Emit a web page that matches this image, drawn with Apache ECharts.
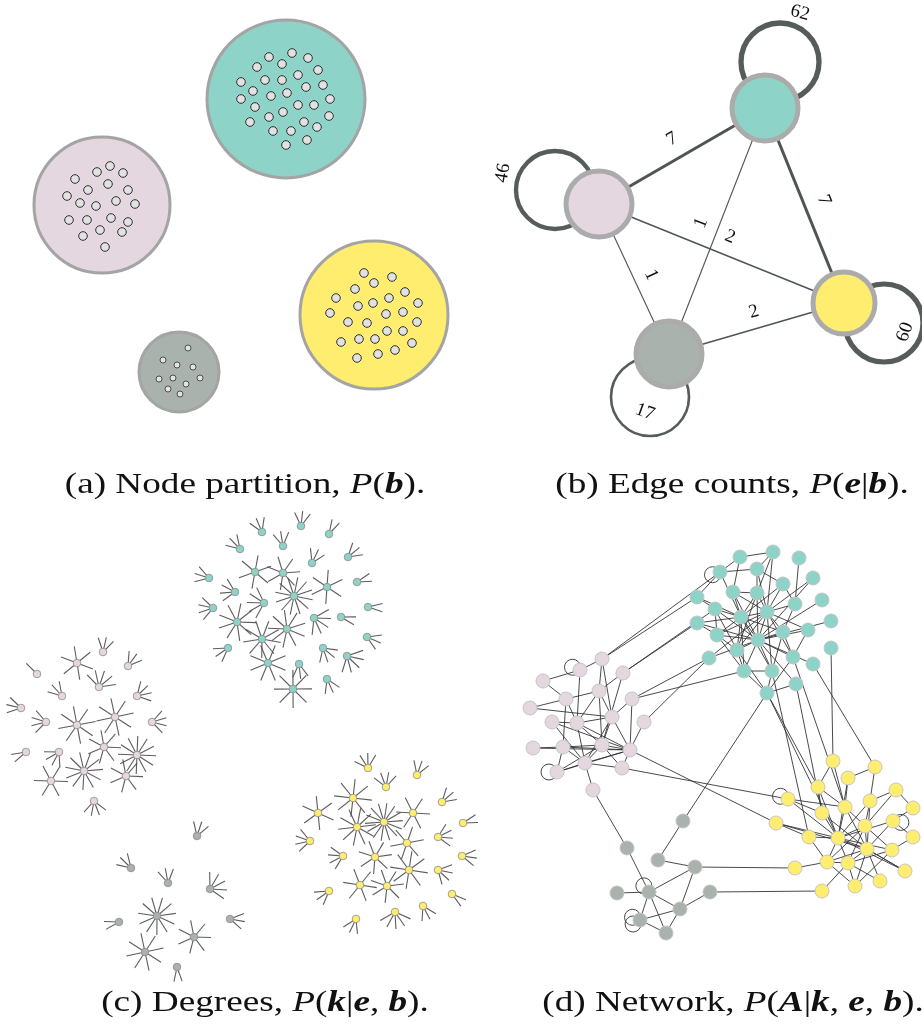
<!DOCTYPE html>
<html><head><meta charset="utf-8">
<script src="https://cdn.jsdelivr.net/npm/echarts@6/dist/echarts.min.js"></script>
<style>html,body{margin:0;padding:0;background:#fff}#c{width:922px;height:1026px}</style>
</head><body><div id="c"></div>
<script>
// ---------- blocks ----------
const blockNames = ['teal', 'pink', 'yellow', 'gray'];
const blockColors = ['#8dd3c7', '#e4d7df', '#ffed6f', '#a9b2ad'];

// ---------- (a) Node partition ----------
const partitionCenters = [[286, 99], [102, 205], [374, 315], [179, 372]];
const partitionRadii = [79, 68, 74, 40];
const partitionTeal = [[269,57],[292,53],[308,58],[257,67],[282,64],[318,70],[265,80],[282,80],[298,75],[323,85],[241,82],[253,91],[271,96],[287,93],[306,87],[330,99],[241,99],[255,107],[283,112],[298,105],[314,105],[329,116],[250,122],[269,117],[304,122],[317,127],[273,131],[291,131],[307,140],[286,145]];
const partitionPink = [[75,179],[97,172],[110,166],[123,173],[88,190],[108,184],[128,190],[67,196],[80,203],[96,206],[116,201],[135,204],[69,220],[87,220],[111,218],[128,222],[83,236],[100,230],[122,232],[105,247]];
const partitionYellow = [[364,273],[392,277],[374,283],[355,289],[405,292],[336,298],[358,306],[373,303],[389,298],[418,303],[330,313],[386,314],[403,312],[348,322],[367,323],[417,322],[387,331],[403,331],[341,342],[359,339],[375,339],[412,343],[357,358],[378,354],[395,350]];
const partitionGray = [[188,348],[163,360],[177,365],[193,367],[159,379],[173,378],[200,378],[186,384],[168,389],[180,394]];

// ---------- (b) Edge counts ----------
const blockGraphPos = [[765, 108], [599, 204], [844, 303], [669, 354]];
const blockGraphRadius = [33, 33, 31, 33];
const blockLoopPos = [[780, 62], [555, 190], [884, 323], [650, 397]];
const edgeCountPairs = [[1, 0], [0, 2], [3, 0], [1, 2], [1, 3], [3, 2]];
const edgeCountValues = [7, 7, 1, 2, 1, 2];
const edgeLabelPos = [[672, 139], [824, 200], [701, 223], [730, 237], [651, 275], [754, 312]];
const selfEdgeCounts = [62, 46, 60, 17];
const selfLabelPos = [[800, 13], [503, 173], [905, 332], [645, 412]];
const selfLabelRot = [-15, 80, 70, -20];

// ---------- (c) Degrees: [x, y, degree] ----------
const degreeTeal = [[262,532,3],[301,526,3],[329,534,2],[240,549,3],[283,546,3],[348,557,3],[255,572,6],[283,573,7],[312,563,3],[209,578,3],[235,592,4],[294,596,12],[327,587,6],[357,582,2],[213,608,4],[264,603,5],[368,607,2],[237,622,9],[287,629,9],[314,618,5],[341,617,2],[262,639,9],[228,648,3],[323,648,4],[347,656,5],[367,637,3],[268,663,8],[299,664,3],[327,679,3],[293,689,8]];
const degreePink = [[77,663,6],[103,652,3],[128,666,3],[37,674,1],[99,687,5],[62,696,3],[137,696,4],[21,708,3],[46,722,4],[77,725,8],[115,717,8],[152,722,4],[26,752,2],[59,752,4],[104,747,7],[137,755,12],[84,771,11],[51,781,6],[126,776,7],[94,801,4]];
const degreeYellow = [[368,768,4],[417,775,3],[386,787,4],[353,798,8],[442,802,3],[318,813,6],[413,813,6],[384,822,14],[463,823,2],[357,827,10],[438,837,4],[310,841,4],[407,843,6],[462,856,3],[343,856,4],[375,857,7],[409,870,8],[438,870,4],[329,891,3],[360,885,6],[387,886,7],[452,894,2],[356,919,3],[395,912,5],[423,906,3]];
const degreeGray = [[197,836,3],[131,868,3],[168,883,3],[210,889,5],[157,916,11],[119,922,2],[230,919,3],[194,937,7],[145,952,8],[177,967,2]];

// ---------- (d) Network ----------
const netTeal = [[740,557],[773,552],[799,558],[720,572],[757,569],[813,578],[783,584],[697,597],[733,592],[757,593],[715,609],[741,617],[767,612],[795,604],[822,600],[697,623],[717,635],[758,640],[783,632],[808,630],[831,621],[737,650],[793,657],[709,658],[744,671],[772,671],[813,664],[831,648],[796,684],[767,693]];
const netPink = [[602,659],[580,670],[623,673],[543,681],[599,691],[566,699],[632,699],[530,708],[552,722],[577,723],[612,717],[644,722],[533,748],[563,747],[602,745],[630,750],[585,763],[557,772],[622,768],[593,790]];
const netYellow = [[833,761],[875,767],[848,778],[818,787],[896,790],[788,799],[870,801],[913,808],[845,807],[822,813],[776,823],[865,826],[893,821],[809,837],[838,838],[913,837],[867,849],[892,850],[795,868],[827,862],[848,863],[905,871],[855,886],[880,881],[822,891]];
const netGray = [[683,821],[627,848],[658,860],[695,867],[617,893],[649,892],[710,892],[680,909],[640,920],[666,933]];
const netEdgesTeal = [[0,1],[0,3],[0,8],[1,4],[1,9],[1,12],[3,4],[3,7],[3,11],[4,9],[4,6],[2,13],[5,12],[5,17],[6,13],[6,11],[7,11],[7,10],[8,11],[8,12],[9,12],[9,17],[10,11],[10,16],[10,17],[11,12],[11,17],[11,15],[11,21],[11,18],[12,17],[12,13],[12,22],[14,17],[15,16],[16,17],[16,12],[17,18],[17,21],[17,24],[17,25],[18,22],[19,22],[19,12],[20,17],[21,24],[21,29],[22,29],[23,12],[24,29],[25,29],[26,17],[28,17],[28,29],[13,18],[9,21],[8,17],[4,12],[11,16],[12,18],[17,22],[8,9],[9,11],[16,21],[11,24],[12,25],[16,24],[12,21],[17,19],[18,25],[6,12],[10,21],[15,17],[23,17],[24,25],[11,25]];
const netEdgesPink = [[0,1],[0,4],[0,10],[1,3],[1,9],[2,4],[2,14],[3,5],[4,5],[4,9],[4,14],[5,7],[5,9],[6,10],[6,15],[7,10],[8,9],[8,15],[9,14],[9,15],[9,16],[10,14],[10,15],[11,15],[12,13],[13,14],[13,15],[14,15],[14,16],[14,18],[16,17],[16,18],[16,15],[17,15],[18,15],[19,16],[17,13],[10,16],[4,10],[9,10],[13,16],[15,12],[14,17],[5,13],[8,16]];
const netEdgesYellow = [[0,3],[0,8],[1,6],[1,2],[2,8],[3,9],[3,14],[4,6],[4,7],[4,11],[5,9],[5,14],[6,11],[6,14],[7,12],[8,11],[8,14],[9,14],[10,13],[10,14],[11,14],[11,16],[11,17],[12,14],[12,15],[13,19],[14,16],[14,19],[14,20],[15,17],[16,20],[16,21],[17,22],[18,19],[19,22],[20,22],[20,23],[21,16],[23,16],[24,20],[11,20],[2,14],[6,16],[8,16],[9,16],[13,14],[14,17],[16,19],[11,19],[12,16],[16,22],[3,8],[5,8],[14,21],[17,20],[19,20],[10,16]];
const netEdgesGray = [[0,2],[2,3],[1,5],[3,5],[3,7],[5,7],[6,7],[4,5],[5,8],[7,8],[8,9],[5,9],[7,9]];
// between blocks: [blockA, nodeA, blockB, nodeB]
const netEdgesBetween = [[1,0,0,7],[1,0,0,3],[1,2,0,15],[1,2,0,10],[1,6,0,23],[1,6,0,24],[1,11,0,23],
  [0,29,2,3],[0,29,2,14],[0,28,2,9],[0,22,2,8],[0,26,2,1],[0,27,2,0],[0,25,2,13],
  [0,29,3,0],[1,15,2,10],[1,18,2,5],[1,19,3,1],[3,3,2,18],[3,6,2,24]];
// self loops: [block, node, direction in degrees]
const netLoops = [[1,1,200],[1,17,180],[2,5,200],[2,12,10],[3,8,200],[3,8,150],[3,5,230],[0,3,160]];

// ---------- captions ----------
const captionTexts = [
  '(a) Node partition, {it|P}({bi|b}).',
  '(b) Edge counts, {it|P}({bi|e}|{bi|b}).',
  '(c) Degrees, {it|P}({bi|k}|{bi|e}, {bi|b}).',
  '(d) Network, {it|P}({bi|A}|{bi|k}, {bi|e}, {bi|b}).'
];
const captionPos = [[245, 485], [732, 485], [265, 1003], [733, 1003]];

// ================= build =================
const chart = echarts.init(document.getElementById('c'));
const FONT = '"Liberation Serif", "DejaVu Serif", serif';

function custom(data, renderItem, z) {
  return { type: 'custom', coordinateSystem: 'cartesian2d', data, renderItem, z, silent: true, animation: false, clip: false };
}

const blockOf = (arr, b) => arr.map(p => [p[0], p[1], b]);

// (a)
const aCircleData = partitionCenters.map((p, i) => [p[0], p[1], partitionRadii[i], i]);
const aNodeData = [].concat(blockOf(partitionTeal, 0), blockOf(partitionPink, 1), blockOf(partitionYellow, 2), blockOf(partitionGray, 3));

// (b)
const bEdgeData = edgeCountPairs.map((p, i) => [blockGraphPos[p[0]][0], blockGraphPos[p[0]][1], blockGraphPos[p[1]][0], blockGraphPos[p[1]][1], edgeCountValues[i]]);
const bLoopData = blockLoopPos.map((p, i) => [p[0], p[1], selfEdgeCounts[i]]);
const bNodeData = blockGraphPos.map((p, i) => [p[0], p[1], i]);
const bLabelData = [];
edgeLabelPos.forEach((p, i) => {
  const a = blockGraphPos[edgeCountPairs[i][0]], c = blockGraphPos[edgeCountPairs[i][1]];
  let ang = Math.atan2(-(c[1] - a[1]), c[0] - a[0]) * 180 / Math.PI;
  if (ang > 90) ang -= 180; if (ang < -90) ang += 180;
  bLabelData.push([p[0], p[1], ang, edgeCountValues[i]]);
});
selfLabelPos.forEach((p, i) => bLabelData.push([p[0], p[1], selfLabelRot[i], selfEdgeCounts[i]]));

// (c)
const degreeBlocks = [degreeTeal, degreePink, degreeYellow, degreeGray];
const cData = [];
degreeBlocks.forEach((arr, b) => {
  const cx = arr.reduce((s, p) => s + p[0], 0) / arr.length;
  const cy = arr.reduce((s, p) => s + p[1], 0) / arr.length;
  arr.forEach(p => cData.push([p[0], p[1], p[2], b, cx, cy]));
});

// (d)
const netBlocks = [netTeal, netPink, netYellow, netGray];
const intraEdges = [netEdgesTeal, netEdgesPink, netEdgesYellow, netEdgesGray];
const dEdgeData = [];
intraEdges.forEach((list, b) => list.forEach(e => {
  const p = netBlocks[b][e[0]], q = netBlocks[b][e[1]];
  dEdgeData.push([p[0], p[1], q[0], q[1]]);
}));
netEdgesBetween.forEach(e => {
  const p = netBlocks[e[0]][e[1]], q = netBlocks[e[2]][e[3]];
  dEdgeData.push([p[0], p[1], q[0], q[1]]);
});
const dLoopData = netLoops.map(l => [netBlocks[l[0]][l[1]][0], netBlocks[l[0]][l[1]][1], l[2]]);
const dNodeData = [];
netBlocks.forEach((arr, b) => arr.forEach(p => dNodeData.push([p[0], p[1], b])));

function lineRender(color, widthFn) {
  return (params, api) => {
    const p1 = api.coord([api.value(0), api.value(1)]);
    const p2 = api.coord([api.value(2), api.value(3)]);
    return { type: 'line', shape: { x1: p1[0], y1: p1[1], x2: p2[0], y2: p2[1] }, style: { stroke: color, lineWidth: widthFn(api) } };
  };
}

const series = [
  // (a) block circles
  custom(aCircleData, (params, api) => {
    const c = api.coord([api.value(0), api.value(1)]);
    const r = api.size([api.value(2), 0])[0];
    return { type: 'circle', shape: { cx: c[0], cy: c[1], r: r }, style: { fill: blockColors[api.value(3)], stroke: '#a4a4a4', lineWidth: 3 } };
  }, 1),
  custom(aNodeData, (params, api) => {
    const c = api.coord([api.value(0), api.value(1)]);
    const small = api.value(2) === 3;
    return { type: 'circle', shape: { cx: c[0], cy: c[1], r: small ? 3 : 4.3 }, style: { fill: '#e2e2e2', stroke: '#2e2e2e', lineWidth: small ? 0.8 : 1 } };
  }, 2),
  // (b)
  custom(bEdgeData, lineRender('#4f5553', api => 0.8 + 0.32 * api.value(4)), 1),
  custom(bLoopData, (params, api) => {
    const c = api.coord([api.value(0), api.value(1)]);
    return { type: 'circle', shape: { cx: c[0], cy: c[1], r: 39 }, style: { fill: 'none', stroke: '#555c5a', lineWidth: 1.6 + 0.06 * api.value(2) } };
  }, 1),
  custom(bNodeData, (params, api) => {
    const c = api.coord([api.value(0), api.value(1)]);
    const b = api.value(2);
    return { type: 'circle', shape: { cx: c[0], cy: c[1], r: blockGraphRadius[b] }, style: { fill: blockColors[b], stroke: '#ababab', lineWidth: 5 } };
  }, 3),
  custom(bLabelData, (params, api) => {
    const c = api.coord([api.value(0), api.value(1)]);
    return { type: 'text', x: c[0], y: c[1], rotation: api.value(2) * Math.PI / 180,
      style: { text: String(api.value(3)), x: 0, y: 0, fill: '#111', font: '19px ' + FONT, textAlign: 'center', textVerticalAlign: 'middle', align: 'center', verticalAlign: 'middle' } };
  }, 4),
  // (c) degree stars
  custom(cData, (params, api) => {
    const x = api.value(0), y = api.value(1), k = api.value(2), b = api.value(3), cx = api.value(4), cy = api.value(5);
    const p = api.coord([x, y]);
    const base = Math.atan2(y - cy, x - cx);
    const L = k >= 8 ? 19 : (k >= 5 ? 17 : 15);
    const angles = [];
    if (k >= 6) {
      for (let i = 0; i < k; i++) angles.push(base + 2 * Math.PI * i / k);
    } else if (k === 1) {
      angles.push(base);
    } else {
      const spread = 0.55 * (k - 1);
      for (let i = 0; i < k; i++) angles.push(base - spread / 2 + spread * i / (k - 1));
    }
    const children = angles.map(a => ({ type: 'line', shape: { x1: p[0], y1: p[1], x2: p[0] + L * Math.cos(a), y2: p[1] + L * Math.sin(a) }, style: { stroke: '#4a4a4a', lineWidth: 1.1, opacity: 0.9 } }));
    children.push({ type: 'circle', shape: { cx: p[0], cy: p[1], r: 3.8 }, style: { fill: blockColors[b], stroke: '#8a8a8a', lineWidth: 0.8 } });
    return { type: 'group', children };
  }, 2),
  // (d) network
  custom(dEdgeData, lineRender('#363636', () => 0.9), 1),
  custom(dLoopData, (params, api) => {
    const c = api.coord([api.value(0), api.value(1)]);
    const a = api.value(2) * Math.PI / 180;
    return { type: 'circle', shape: { cx: c[0] + 8 * Math.cos(a), cy: c[1] + 8 * Math.sin(a), r: 8 }, style: { fill: 'none', stroke: '#363636', lineWidth: 0.9 } };
  }, 1),
  custom(dNodeData, (params, api) => {
    const c = api.coord([api.value(0), api.value(1)]);
    return { type: 'circle', shape: { cx: c[0], cy: c[1], r: 7 }, style: { fill: blockColors[api.value(2)], stroke: '#c4c4c4', lineWidth: 1 } };
  }, 3)
];

const CAP_SIZE = 30;
const richStyles = {
  it: { fontFamily: FONT, fontSize: CAP_SIZE, fontStyle: 'italic', fill: '#111' },
  bi: { fontFamily: FONT, fontSize: CAP_SIZE, fontStyle: 'italic', fontWeight: 'bold', fill: '#111' }
};

chart.setOption({
  animation: false,
  grid: { left: 0, right: 0, top: 0, bottom: 0 },
  xAxis: { type: 'value', min: 0, max: 922, show: false },
  yAxis: { type: 'value', min: 0, max: 1026, inverse: true, show: false },
  series: series,
  graphic: captionTexts.map((t, i) => ({
    type: 'text', x: captionPos[i][0], y: captionPos[i][1], silent: true, scaleX: 1.24,
    style: { text: t, fontFamily: FONT, fontSize: CAP_SIZE, fill: '#111', rich: richStyles,
      textAlign: 'center', textVerticalAlign: 'middle', align: 'center', verticalAlign: 'middle' }
  }))
});
</script></body></html>
